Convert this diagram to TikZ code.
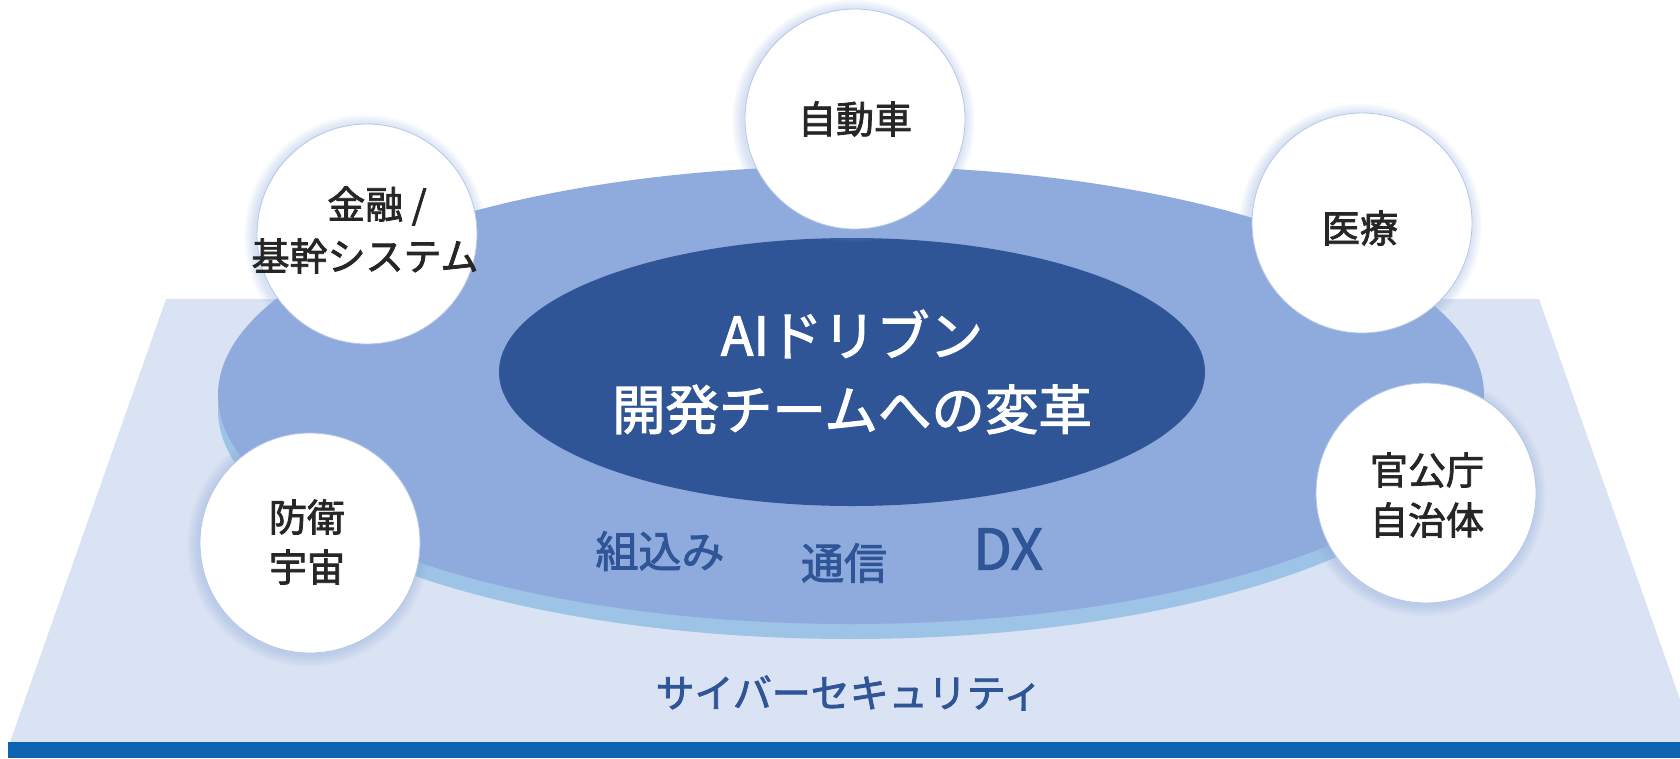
\documentclass[tikz,border=0pt]{standalone}
\usepackage{fontspec}
\usetikzlibrary{shapes.geometric}
\newfontfamily\jp[FakeBold=2]{Noto Sans CJK JP}
\definecolor{trap}{HTML}{DAE3F3}
\definecolor{midblue}{HTML}{8FAADC}
\definecolor{under}{HTML}{9DC3E6}
\definecolor{darkblue}{HTML}{2F5597}
\definecolor{barblue}{HTML}{0D63B0}
\definecolor{ring}{HTML}{B4C7E7}
\definecolor{ink}{HTML}{262626}
\begin{document}
\begin{tikzpicture}[x=1pt,y=-1pt,
  bubble/.style={circle,fill=white,draw=ring,line width=0.8pt,minimum size=220pt,inner sep=0pt},
  blacktxt/.style={text=ink,font=\jp\fontsize{38}{50}\selectfont,align=center,inner sep=0pt},
  bluetxt/.style={text=darkblue,font=\jp\fontsize{43}{50}\selectfont,inner sep=0pt},
  halo/.pic={\foreach \k in {1,...,7}{\fill[midblue,opacity=0.06] (-1.5,2) circle[radius=110+1.6*\k];}}]
\useasboundingbox (0,0) rectangle (1680,758);
% base trapezoid
\fill[trap] (166,299) -- (1539,299) -- (1695,742) -- (10,742) -- cycle;
\fill[barblue] (8,742) rectangle (1680,758);
% platform ellipses
\fill[under] (851,410) ellipse[x radius=633,y radius=229];
\fill[midblue] (851,395) ellipse[x radius=633,y radius=229];
\node[ellipse,fill=darkblue,minimum width=706pt,minimum height=268pt,inner sep=0pt] (core) at (852,372) {};
\node[text=white,font=\jp\fontsize{53.5}{74}\selectfont,align=center,inner sep=0pt] (coret) at (852,372) {AIドリブン\\開発チームへの変革};
% ring labels
\node[bluetxt] (kumi) at (660,551) {組込み};
\node[bluetxt] (tsu) at (844,563) {通信};
\node[bluetxt,font=\jp\fontsize{56}{50}\selectfont] (dx) at (1008,549) {DX};
\node[text=darkblue,font=\jp\fontsize{39}{50}\selectfont,inner sep=0pt] (cyber) at (849,693) {サイバーセキュリティ};
% bubbles
\pic at (855,119) {halo};
\node[bubble] (car) at (855,119) {};
\node[blacktxt] at (car) {自動車};
\pic at (367,234) {halo};
\node[bubble] (fin) at (367,234) {};
\node[blacktxt] (fin1) at (377,206) {金融 /};
\node[blacktxt] (fin2) at (365,256) {基幹システム};
\pic at (1362,223) {halo};
\node[bubble] (med) at (1362,223) {};
\node[blacktxt] at (1360,228) {医療};
\pic at (1426,493) {halo};
\node[bubble] (gov) at (1426,493) {};
\node[blacktxt] at (1427,495) {官公庁\\自治体};
\pic at (310,543) {halo};
\node[bubble] (def) at (310,543) {};
\node[blacktxt] at (307,542) {防衛\\宇宙};
\end{tikzpicture}
\end{document}
